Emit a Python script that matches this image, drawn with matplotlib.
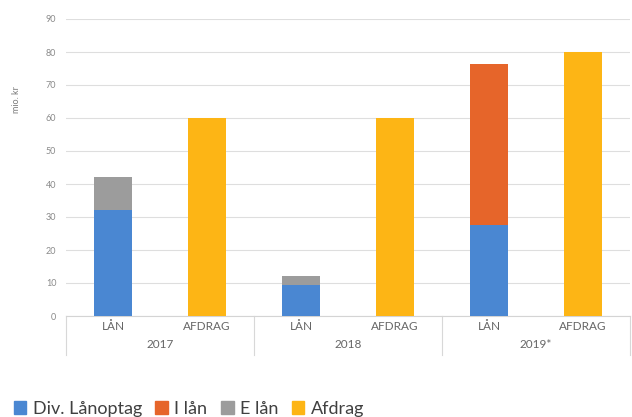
import matplotlib
matplotlib.use("Agg")
import matplotlib.pyplot as plt
from matplotlib.patches import Patch
import numpy as np

# data (mio. kr)
categories = ['LÅN', 'AFDRAG', 'LÅN', 'AFDRAG', 'LÅN', 'AFDRAG']
years = ['2017', '2018', '2019*']
div_laanoptag = [32, 0, 9.5, 0, 27.5, 0]
i_laan = [0, 0, 0, 0, 49, 0]
e_laan = [10, 0, 2.5, 0, 0, 0]
afdrag = [0, 60, 0, 60, 0, 80]
yticks = list(range(0, 100, 10))

blue = '#4a87d2'
orange = '#e6652a'
grey = '#9c9c9c'
yellow = '#fdb515'

plt.rcParams['font.family'] = ['Lato', 'DejaVu Sans']

fig = plt.figure(figsize=(6.32, 4.17), dpi=100)
ax = fig.add_axes([66 / 632, 1 - 316 / 417, 564 / 632, 297 / 417])

x = np.arange(len(categories))
w = 0.4
b1 = np.array(div_laanoptag, dtype=float)
b2 = b1 + np.array(i_laan)
ax.bar(x, div_laanoptag, w, color=blue, zorder=3)
ax.bar(x, i_laan, w, bottom=b1, color=orange, zorder=3)
ax.bar(x, e_laan, w, bottom=b2, color=grey, zorder=3)
ax.bar(x, afdrag, w, color=yellow, zorder=3)

ax.set_xlim(-0.5, len(categories) - 0.5)
ax.set_ylim(0, 90)
ax.set_yticks(yticks)
ax.tick_params(axis='y', labelsize=6.5, colors='#8a8a8a', length=0, pad=7)
ax.set_xticks([])
ax.grid(axis='y', color='#dedede', linewidth=0.8, zorder=0)
for s in ['top', 'right', 'left']:
    ax.spines[s].set_visible(False)
ax.spines['bottom'].set_color('#d4d4d4')
ax.spines['bottom'].set_linewidth(0.8)

ax.set_ylabel('mio. kr', fontsize=6.5, color='#7a7a7a')
ax.yaxis.set_label_coords(-0.08, 0.73)

trans = ax.get_xaxis_transform()
for i, c in enumerate(categories):
    ax.text(x[i], -0.035, c, transform=trans, ha='center', va='center',
            fontsize=8.5, color='#666666')
for j, yr in enumerate(years):
    ax.text(2 * j + 0.5, -0.095, yr, transform=trans, ha='center', va='center',
            fontsize=8.5, color='#666666')
for sx in [-0.5, 1.5, 3.5, 5.5]:
    ax.plot([sx, sx], [0, -0.13], transform=trans, color='#d8d8d8',
            linewidth=0.8, clip_on=False)

handles = [Patch(color=blue), Patch(color=orange), Patch(color=grey), Patch(color=yellow)]
labels = ['Div. Lånoptag', 'I lån', 'E lån', 'Afdrag']
fig.legend(handles, labels, loc='lower left', bbox_to_anchor=(-0.004, -0.038), ncol=4,
           frameon=False, fontsize=13, handlelength=0.7, handleheight=0.7,
           handletextpad=0.35, columnspacing=0.75, labelcolor='#404040')

fig.savefig('out.png', dpi=100)
